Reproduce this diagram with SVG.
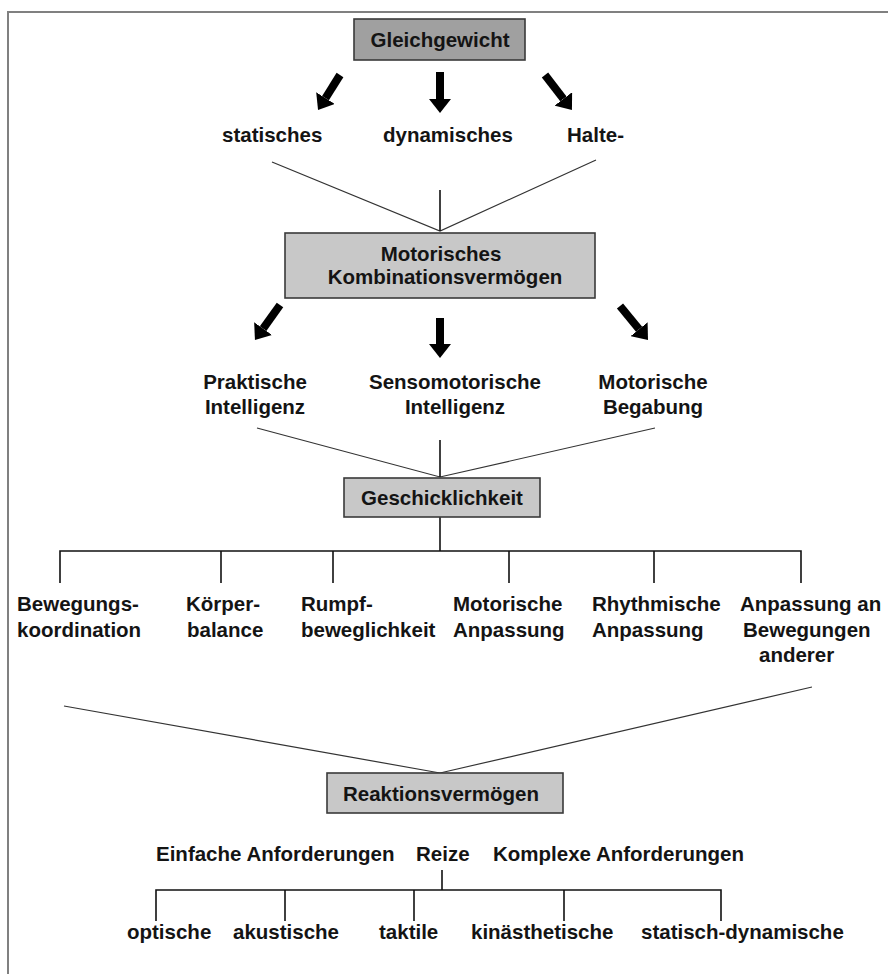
<svg xmlns="http://www.w3.org/2000/svg" width="888" height="974" viewBox="0 0 888 974">
<style>
text{font-family:"Liberation Sans",Arial,sans-serif;font-weight:bold;font-size:20.5px;fill:#141414}
.c{text-anchor:middle}
.box{stroke:#3a3a3a;stroke-width:1.6}
.thin{stroke:#333;stroke-width:1.2;fill:none}
.tree{stroke:#111;stroke-width:1.6;fill:none}
.arr{stroke:#000;stroke-width:8;marker-end:url(#ah)}
</style>
<defs>
<marker id="ah" markerUnits="userSpaceOnUse" markerWidth="14" markerHeight="22" viewBox="0 0 14 22" refX="0" refY="11" orient="auto"><path d="M0,0 L14,11 L0,22 z" fill="#000"/></marker>
</defs>
<rect x="8" y="12" width="900" height="1000" fill="#fff" stroke="#808080" stroke-width="2"/>

<g id="connectors">
<line class="arr" x1="340" y1="75" x2="325.5" y2="98.1"/>
<line class="arr" x1="440" y1="72" x2="440" y2="99"/>
<line class="arr" x1="545" y1="75" x2="563.4" y2="98.9"/>
<polyline class="thin" points="272,162 440,231 596,160"/>
<line class="tree" x1="440" y1="190" x2="440" y2="231"/>
<line class="arr" x1="280" y1="305" x2="263.1" y2="328.6"/>
<line class="arr" x1="440" y1="318" x2="440" y2="344"/>
<line class="arr" x1="620" y1="306" x2="639.1" y2="329.2"/>
<polyline class="thin" points="257,428 440,477 655,428"/>
<line class="tree" x1="440" y1="440" x2="440" y2="477"/>
<line class="tree" x1="440" y1="517" x2="440" y2="551"/>
<polyline class="tree" points="60,583 60,551 801,551 801,583"/>
<line class="tree" x1="221" y1="551" x2="221" y2="583"/>
<line class="tree" x1="333" y1="551" x2="333" y2="583"/>
<line class="tree" x1="509" y1="551" x2="509" y2="583"/>
<line class="tree" x1="654" y1="551" x2="654" y2="583"/>
<polyline class="thin" points="64,706 440,773 812,687"/>
<line class="tree" x1="442" y1="870" x2="442" y2="890"/>
<polyline class="tree" points="156,921 156,890 721,890 721,921"/>
<line class="tree" x1="285" y1="890" x2="285" y2="921"/>
<line class="tree" x1="414" y1="890" x2="414" y2="921"/>
<line class="tree" x1="564" y1="890" x2="564" y2="921"/>
</g>

<g id="gleichgewicht">
<rect class="box" x="354" y="19" width="171" height="41" fill="#a0a0a0"/>
<text class="c" x="440" y="47">Gleichgewicht</text>
</g>
<g id="statisches"><text x="222" y="142">statisches</text></g>
<g id="dynamisches"><text x="383" y="142">dynamisches</text></g>
<g id="halte"><text x="567" y="142">Halte-</text></g>

<g id="kombination">
<rect class="box" x="285" y="233" width="310" height="65" fill="#c8c8c8"/>
<text class="c" x="441" y="261">Motorisches</text>
<text class="c" x="445" y="284">Kombinationsvermögen</text>
</g>

<g id="praktische"><text class="c" x="255" y="389">Praktische</text><text class="c" x="255" y="414">Intelligenz</text></g>
<g id="sensomotorische"><text class="c" x="455" y="389">Sensomotorische</text><text class="c" x="455" y="414">Intelligenz</text></g>
<g id="motorische-begabung"><text class="c" x="653" y="389">Motorische</text><text class="c" x="653" y="414">Begabung</text></g>

<g id="geschicklichkeit">
<rect class="box" x="344" y="478" width="196" height="39" fill="#c8c8c8"/>
<text class="c" x="442" y="505">Geschicklichkeit</text>
</g>

<g id="bewegungskoordination"><text x="17" y="611">Bewegungs-</text><text x="17" y="637">koordination</text></g>
<g id="koerperbalance"><text x="186" y="611">Körper-</text><text x="187" y="637">balance</text></g>
<g id="rumpfbeweglichkeit"><text x="301" y="611">Rumpf-</text><text x="301" y="637">beweglichkeit</text></g>
<g id="motorische-anpassung"><text x="453" y="611">Motorische</text><text x="453" y="637">Anpassung</text></g>
<g id="rhythmische-anpassung"><text x="592" y="611">Rhythmische</text><text x="592" y="637">Anpassung</text></g>
<g id="anpassung-anderer"><text x="740" y="611">Anpassung an</text><text x="743" y="637">Bewegungen</text><text x="759" y="662">anderer</text></g>

<g id="reaktionsvermoegen">
<rect class="box" x="327" y="773" width="236" height="40" fill="#c8c8c8"/>
<text class="c" x="441" y="801">Reaktionsvermögen</text>
</g>

<g id="einfache"><text x="156" y="861">Einfache Anforderungen</text></g>
<g id="reize"><text x="416" y="861">Reize</text></g>
<g id="komplexe"><text x="493" y="861">Komplexe Anforderungen</text></g>

<g id="optische"><text x="127" y="939">optische</text></g>
<g id="akustische"><text x="233" y="939">akustische</text></g>
<g id="taktile"><text x="379" y="939">taktile</text></g>
<g id="kinaesthetische"><text x="471" y="939">kinästhetische</text></g>
<g id="statisch-dynamische"><text x="641" y="939">statisch-dynamische</text></g>
</svg>
